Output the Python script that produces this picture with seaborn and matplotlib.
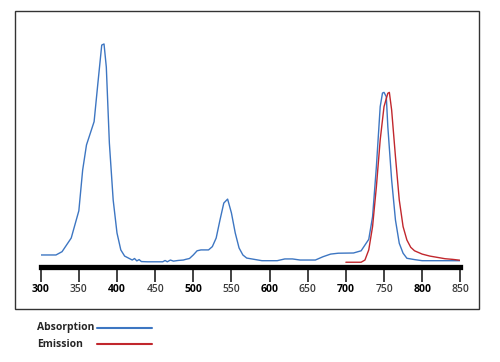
import numpy as np
import pandas as pd
import seaborn as sns
import matplotlib.pyplot as plt
from matplotlib.lines import Line2D
from matplotlib.patches import Rectangle

# Absorption spectrum (wavelength in nm, normalised intensity)
abs_wl = [300, 320, 328, 340, 350, 355, 360, 370, 375, 380, 383, 386, 390, 395,
          400, 405, 410, 420, 423, 426, 429, 432, 440, 460, 463, 466, 470, 474,
          480, 487, 490, 495, 500, 505, 510, 520, 525, 530, 535, 540, 545, 550,
          555, 560, 565, 570, 580, 590, 610, 620, 630, 640, 660, 670, 680, 690,
          710, 720, 730, 735, 740, 745, 748, 750, 753, 755, 760, 765, 770, 775,
          780, 790, 800, 850]
abs_val = [0.041, 0.041, 0.056, 0.118, 0.242, 0.427, 0.541, 0.647, 0.823, 0.995,
           1.0, 0.895, 0.55, 0.291, 0.141, 0.064, 0.036, 0.018, 0.025, 0.014,
           0.02, 0.011, 0.01, 0.01, 0.016, 0.01, 0.018, 0.013, 0.016, 0.018,
           0.021, 0.025, 0.041, 0.06, 0.064, 0.064, 0.079, 0.118, 0.2, 0.277,
           0.295, 0.232, 0.141, 0.073, 0.041, 0.027, 0.021, 0.015, 0.015, 0.023,
           0.023, 0.018, 0.018, 0.033, 0.045, 0.049, 0.05, 0.06, 0.112, 0.215,
           0.442, 0.715, 0.777, 0.78, 0.76, 0.624, 0.382, 0.2, 0.094, 0.049,
           0.026, 0.02, 0.015, 0.015]

# Emission spectrum
em_wl = [700, 720, 725, 730, 735, 740, 745, 750, 755, 757, 760, 765, 770, 775,
         780, 785, 790, 800, 810, 820, 830, 840, 850]
em_val = [0.008, 0.008, 0.018, 0.064, 0.17, 0.351, 0.564, 0.715, 0.776, 0.78,
          0.7, 0.488, 0.291, 0.17, 0.109, 0.076, 0.06, 0.045, 0.036, 0.03,
          0.024, 0.021, 0.017]

x_ticks = [300, 350, 400, 450, 500, 550, 600, 650, 700, 750, 800, 850]
series_names = ['Absorption', 'Emission']
blue = '#3d76c2'
red = '#c1272d'

sns.set_style('white')
plt.rcParams['font.family'] = ['Open Sans', 'DejaVu Sans']
plt.rcParams['xtick.bottom'] = True
plt.rcParams['xtick.direction'] = 'out'
plt.rcParams['xtick.major.size'] = 11
plt.rcParams['xtick.major.width'] = 1.3
plt.rcParams['xtick.major.pad'] = 1.5
plt.rcParams['xtick.color'] = '#333333'

df = pd.concat([
    pd.DataFrame({'Wavelength': abs_wl, 'Intensity': abs_val, 'Series': series_names[0]}),
    pd.DataFrame({'Wavelength': em_wl, 'Intensity': em_val, 'Series': series_names[1]}),
])

fig = plt.figure(figsize=(5, 3.62), dpi=100)
ax = fig.add_axes([0.0814, 0.2638, 0.8392, 0.681])

sns.lineplot(data=df, x='Wavelength', y='Intensity', hue='Series',
             palette={series_names[0]: blue, series_names[1]: red},
             linewidth=1.0, legend=False, ax=ax)

ax.set_xlim(300, 850)
ax.set_ylim(-0.0114, 1.109)
ax.set_xlabel('')
ax.set_ylabel('')
ax.set_yticks([])
for s in ['top', 'left', 'right']:
    ax.spines[s].set_visible(False)
ax.spines['bottom'].set_linewidth(3.8)
ax.spines['bottom'].set_color('black')

ax.set_xticks(x_ticks)
ax.set_xticklabels([str(t) for t in x_ticks])
ax.tick_params(axis='x', which='major', bottom=True, length=11, width=1.3,
               color='#333333', pad=1.5)
for t, lab in zip(x_ticks, ax.get_xticklabels()):
    lab.set_fontsize(7.5)
    if t % 100 == 0:
        lab.set_fontweight('bold')
        lab.set_color('black')
    else:
        lab.set_fontweight('semibold')
        lab.set_color('#3a3a3a')

# outer frame
fig.patches.append(Rectangle((15 / 500, 53 / 362), 464 / 500, 298 / 362,
                             transform=fig.transFigure, fill=False,
                             edgecolor='#333333', linewidth=1.0))

# legend below the frame
for name, color, yc in [(series_names[0], blue, 0.094), (series_names[1], red, 0.0497)]:
    fig.text(37 / 500, yc, name, fontsize=7.5, fontweight='bold', va='center', ha='left')
    fig.add_artist(Line2D([97 / 500, 152 / 500], [yc, yc], color=color, linewidth=1.5,
                          transform=fig.transFigure))

plt.savefig('out.png', dpi=100)
plt.close()
